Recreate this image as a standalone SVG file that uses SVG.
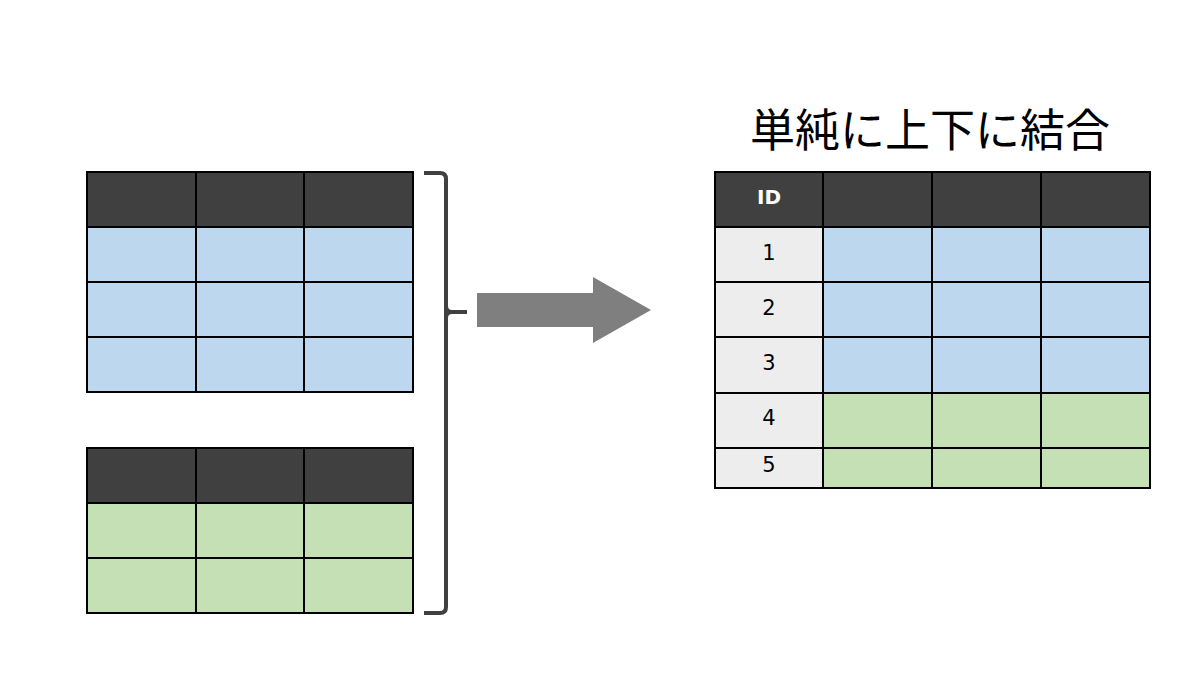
<svg xmlns="http://www.w3.org/2000/svg" width="1200" height="675" viewBox="0 0 1200 675">
<style>
.hd{fill:#404040;stroke:#000;stroke-width:2}
.bl{fill:#bdd7ee;stroke:#000;stroke-width:2}
.gr{fill:#c5e0b4;stroke:#000;stroke-width:2}
.id{fill:#ededed;stroke:#000;stroke-width:2}
.num{font-family:"DejaVu Sans",Verdana,sans-serif;font-size:21px;fill:#000;text-anchor:middle}
.idt{font-family:"DejaVu Sans",Verdana,sans-serif;font-size:20px;font-weight:bold;fill:#fff;text-anchor:middle}
.title{font-family:"Noto Sans CJK JP",sans-serif;font-size:45px;fill:#000;text-anchor:middle}
</style>
<rect width="1200" height="675" fill="#fff"/>
<g id="table-a">
<rect class="hd" x="87" y="172" width="109" height="55"/>
<rect class="hd" x="196" y="172" width="108" height="55"/>
<rect class="hd" x="304" y="172" width="109" height="55"/>
<rect class="bl" x="87" y="227" width="109" height="55"/>
<rect class="bl" x="196" y="227" width="108" height="55"/>
<rect class="bl" x="304" y="227" width="109" height="55"/>
<rect class="bl" x="87" y="282" width="109" height="55"/>
<rect class="bl" x="196" y="282" width="108" height="55"/>
<rect class="bl" x="304" y="282" width="109" height="55"/>
<rect class="bl" x="87" y="337" width="109" height="55"/>
<rect class="bl" x="196" y="337" width="108" height="55"/>
<rect class="bl" x="304" y="337" width="109" height="55"/>
</g>
<g id="table-b">
<rect class="hd" x="87" y="448" width="109" height="55"/>
<rect class="hd" x="196" y="448" width="108" height="55"/>
<rect class="hd" x="304" y="448" width="109" height="55"/>
<rect class="gr" x="87" y="503" width="109" height="55"/>
<rect class="gr" x="196" y="503" width="108" height="55"/>
<rect class="gr" x="304" y="503" width="109" height="55"/>
<rect class="gr" x="87" y="558" width="109" height="55"/>
<rect class="gr" x="196" y="558" width="108" height="55"/>
<rect class="gr" x="304" y="558" width="109" height="55"/>
</g>
<g id="connectors">
<path id="brace" d="M424,173 H440 Q446,173 446,179 V306 Q446,312 452,312 H467 M446,306 V318 Q446,312 452,312 M446,318 V607 Q446,613 440,613 H424" fill="none" stroke="#404040" stroke-width="4"/>
<polygon id="arrow" points="477,293 593,293 593,277 651,310 593,343 593,327 477,327" fill="#7f7f7f"/>
</g>
<g id="title">
<text class="title" x="930" y="147">単純に上下に結合</text>
</g>
<g id="table-merged">
<rect class="hd" x="715" y="172" width="108" height="55"/>
<rect class="hd" x="823" y="172" width="109" height="55"/>
<rect class="hd" x="932" y="172" width="109" height="55"/>
<rect class="hd" x="1041" y="172" width="109" height="55"/>
<rect class="id" x="715" y="227" width="108" height="55"/>
<rect class="bl" x="823" y="227" width="109" height="55"/>
<rect class="bl" x="932" y="227" width="109" height="55"/>
<rect class="bl" x="1041" y="227" width="109" height="55"/>
<rect class="id" x="715" y="282" width="108" height="55"/>
<rect class="bl" x="823" y="282" width="109" height="55"/>
<rect class="bl" x="932" y="282" width="109" height="55"/>
<rect class="bl" x="1041" y="282" width="109" height="55"/>
<rect class="id" x="715" y="337" width="108" height="56"/>
<rect class="bl" x="823" y="337" width="109" height="56"/>
<rect class="bl" x="932" y="337" width="109" height="56"/>
<rect class="bl" x="1041" y="337" width="109" height="56"/>
<rect class="id" x="715" y="393" width="108" height="55"/>
<rect class="gr" x="823" y="393" width="109" height="55"/>
<rect class="gr" x="932" y="393" width="109" height="55"/>
<rect class="gr" x="1041" y="393" width="109" height="55"/>
<rect class="id" x="715" y="448" width="108" height="40"/>
<rect class="gr" x="823" y="448" width="109" height="40"/>
<rect class="gr" x="932" y="448" width="109" height="40"/>
<rect class="gr" x="1041" y="448" width="109" height="40"/>
<text class="idt" x="769" y="204">ID</text>
<text class="num" x="769" y="260">1</text>
<text class="num" x="769" y="315">2</text>
<text class="num" x="769" y="370">3</text>
<text class="num" x="769" y="425">4</text>
<text class="num" x="769" y="472">5</text>
</g>
</svg>
